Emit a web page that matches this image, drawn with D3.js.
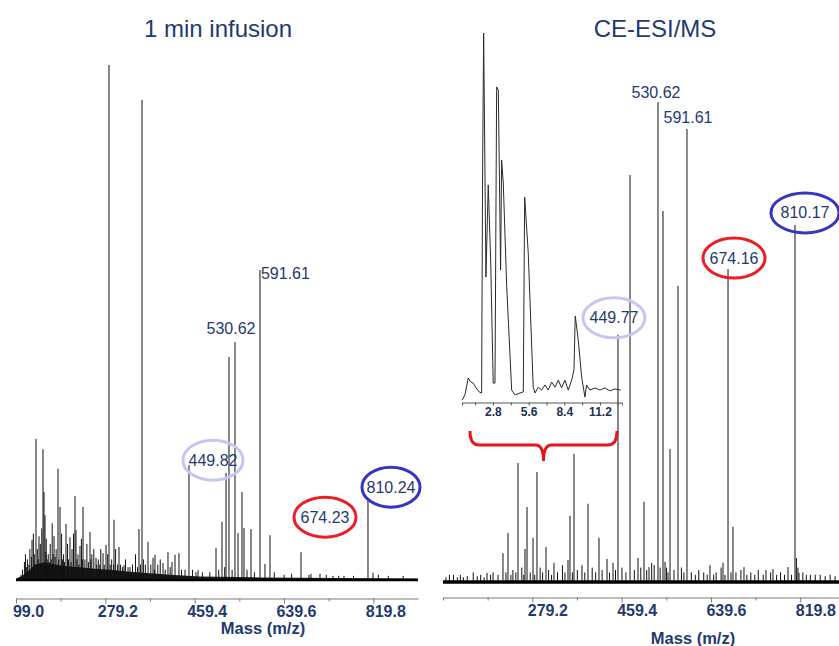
<!DOCTYPE html>
<meta charset="utf-8">
<style>
body { margin: 0; background: #fff; }
svg { display: block; font-family: "Liberation Sans", Arial, sans-serif; }
.title { font-size: 24px; fill: #1f3a73; text-anchor: middle; }
.axis path, .axis line { fill: none; stroke: #7a7a7a; stroke-width: 1px; }
.axis text { font-size: 16px; font-weight: bold; fill: #1f3a73; font-family: "Liberation Sans", Arial, sans-serif; }
.axis-title { font-size: 16.5px; font-weight: bold; fill: #1f3a73; text-anchor: middle; }
.peak { stroke: #111; stroke-width: 1px; }
.grass { stroke: #111; stroke-width: 1px; }
.band { fill: #1a1a1a; }
.baseline { fill: none; stroke: #000; stroke-width: 2.5px; }
.peak-label { font-size: 16px; fill: #1f3a73; }
.ring { fill: none; stroke-width: 3px; }
.inset-trace { fill: none; stroke: #2a2a2a; stroke-width: 1px; }
.inset-axis path, .inset-axis line { fill: none; stroke: #555; stroke-width: 1px; }
.inset-axis text { font-size: 12px; font-weight: bold; fill: #1f2f55; font-family: "Liberation Sans", Arial, sans-serif; }
.brace { fill: none; stroke: #e8141c; stroke-width: 3px; }
</style>
<body>
<script src="https://d3js.org/d3.v7.min.js"></script>
<script>
// two mass spectra side by side: direct infusion vs CE-ESI/MS (with electropherogram inset)

var massTicks = [99.0, 189.1, 279.2, 369.3, 459.4, 549.5, 639.6, 729.7, 819.8];
var leftTickLabels = [99.0, 279.2, 459.4, 639.6, 819.8];
var rightTickLabels = [279.2, 459.4, 639.6, 819.8];

// [m/z, relative intensity]
var leftPeaks = [
  [109.1, 1.0], [131.3, 7.8], [139.3, 27.4], [145.4, 8.5], [153.5, 25.4], [155.5, 17.1],
  [157.5, 12.6], [175.7, 8.5], [183.7, 21.6], [187.8, 14.2], [199.9, 10.9], [207.9, 8.3],
  [218.0, 16.3], [220.0, 9.7], [228.1, 6.6], [234.2, 14.2], [248.3, 9.3], [260.4, 4.3],
  [274.5, 5.2], [280.6, 6.8], [286.6, 100], [296.7, 11.7], [306.8, 6.4], [316.9, 2.9],
  [329.0, 2.5], [347.1, 9.9], [353.2, 93.2], [365.3, 7.4], [375.4, 4.3], [379.4, 4.9],
  [395.6, 3.3], [405.6, 5.4], [413.7, 3.5], [419.8, 4.9], [427.8, 5.2], [448.0, 22.3],
  [466.2, 1.9], [502.5, 6.2], [514.6, 11.3], [522.7, 20.8], [528.7, 43.3], [540.8, 46.2],
  [546.9, 9.1], [554.9, 17.1], [559.0, 10.1], [573.1, 9.9], [591.2, 60.2], [601.3, 3.1],
  [611.4, 8.7], [674.0, 5.4], [694.1, 1.2], [712.3, 1.2], [738.5, 0.8], [760.7, 0.8],
  [809.1, 15.7], [819.2, 1.4]
];

// unresolved low-level signal under the infusion spectrum
var leftGrass = [
  [112, 2], [116, 3.5], [118, 5], [120, 2.5], [122, 4], [125, 3], [127, 6], [130, 4.5],
  [134, 9], [136, 5], [142, 6], [144, 4], [148, 7], [151, 10], [159, 5.5], [160, 8],
  [162, 4], [164, 5], [166, 3.5], [168, 7], [170, 4], [172, 11], [174, 5], [178, 4.5],
  [180, 6], [185, 4], [191, 9], [193, 4], [195, 5], [197, 3.5], [203, 7], [205, 4],
  [210, 3.5], [212, 6], [215, 9], [222, 4], [224, 5], [226, 3], [231, 8], [233, 4],
  [238, 4], [242, 7], [245, 3.5], [250, 4], [252, 5], [256, 6], [262, 3], [265, 4],
  [268, 3], [270, 6], [277, 3], [284, 5], [289, 3], [292, 4], [296, 3], [300, 6], [304, 3],
  [310, 3], [314, 2.5], [320, 4], [325, 2.5], [334, 3], [340, 5], [344, 2.5], [350, 3],
  [356, 4], [360, 3], [371, 3], [378, 2], [385, 3], [390, 4], [400, 2], [410, 2.5],
  [433, 2], [440, 2], [455, 2], [462, 1.5], [475, 1.5], [490, 1.5], [508, 2], [520, 2.5],
  [535, 2], [565, 2], [580, 1.5], [620, 1.5], [640, 1], [655, 1.2], [690, 1], [725, 1],
  [750, 0.8], [780, 0.8], [830, 1], [850, 0.8], [880, 0.8]
];

var leftBand = [
  [99, 0.3], [111, 0.8], [127, 2.0], [137, 3.0], [157, 3.4], [178, 3.0], [198, 2.7],
  [228, 2.5], [258, 2.2], [289, 2.0], [329, 1.6], [369, 1.3], [410, 1.0], [470, 0.7],
  [591, 0.5], [910, 0.3]
];

var rightPeaks = [
  [187.8, 1.9], [220.0, 6.0], [230.1, 10.2], [250.3, 24.8], [264.4, 6.9], [268.5, 15.6],
  [280.6, 9.2], [288.6, 22.9], [306.8, 7.3], [322.9, 4.0], [351.2, 4.6], [355.2, 13.8],
  [363.3, 26.7], [379.4, 3.5], [391.5, 16.3], [413.7, 9.2], [429.9, 4.8], [442.0, 4.0],
  [452.0, 51.5], [476.3, 84.8], [492.4, 5.0], [504.5, 16.7], [514.6, 3.1], [532.7, 100],
  [542.8, 77.3], [546.9, 4.2], [557.0, 27.7], [573.1, 61.7], [591.2, 94.4], [637.6, 3.5],
  [663.9, 4.0], [674.0, 65.2], [684.0, 11.5], [706.2, 3.1], [750.6, 2.5], [764.7, 2.7],
  [795.0, 3.1], [809.1, 74.4], [817.2, 1.9]
];

var rightGrass = [
  [105, 1], [112, 1.5], [120, 1.5], [128, 1], [134, 1.5], [140, 1], [148, 1.2], [160, 2],
  [168, 1.2], [175, 1.5], [182, 1], [195, 1.5], [200, 2], [210, 1.5], [226, 2], [236, 1.5],
  [240, 2.5], [246, 2], [258, 3], [262, 1.5], [275, 2], [284, 1.5], [295, 3], [300, 2],
  [312, 2.5], [318, 1.5], [330, 2], [340, 3.5], [345, 2], [360, 2], [370, 2.5], [385, 2],
  [400, 3], [407, 2], [420, 2.5], [435, 2], [447, 2.5], [460, 3], [468, 2], [485, 2.5],
  [498, 3], [510, 2.5], [520, 4], [525, 3.5], [537, 3], [550, 3], [553, 2], [565, 2.5],
  [580, 3], [585, 2], [600, 2], [608, 1.5], [615, 2.5], [625, 2], [632, 1.5], [645, 1.5],
  [650, 2], [660, 3], [668, 1.5], [680, 2], [690, 2], [700, 2.5], [712, 1.5], [720, 2],
  [728, 1.5], [735, 2.5], [745, 1.5], [760, 2], [772, 1.5], [780, 2], [788, 1.5], [802, 1.5],
  [812, 5], [815, 3], [825, 2], [832, 1.5], [840, 1.5], [850, 1.5], [860, 1.5], [870, 1.2],
  [880, 1.5], [890, 1.2], [900, 1.2]
];

// electropherogram inset (time, signal)
var insetTime = [
  0.39, 0.60, 0.86, 1.05, 1.25, 1.47, 1.72, 1.91, 1.99, 2.07, 2.25, 2.43, 2.62, 2.82, 2.96,
  3.09, 3.22, 3.40, 3.48, 3.61, 3.88, 4.27, 4.53, 4.92, 5.18, 5.29, 5.57, 5.96, 6.10, 6.36,
  6.62, 6.88, 7.14, 7.41, 7.67, 7.93, 8.19, 8.45, 8.71, 8.98, 9.16, 9.26, 9.50, 9.76, 10.02,
  10.15, 10.41, 10.81, 11.20, 11.59, 11.98, 12.38, 12.82
];
var insetSignal = [
  0, 1.4, 6.0, 4.9, 4.6, 3.3, 2.2, 1.9, 63.5, 100, 33.5, 58.6, 38.1, 4.6, 4.6,
  85.3, 84.5, 35.4, 65.4, 59.1, 30.8, 2.7, 1.4, 1.9, 2.2, 55.3, 40.1, 3.5, 1.9, 3.5,
  2.7, 4.1, 2.7, 4.9, 3.5, 5.4, 3.3, 5.4, 2.7, 5.4, 8.2, 22.9, 16.3, 6.3, 0.8,
  4.1, 2.7, 3.3, 2.7, 3.3, 2.5, 3.0, 2.7
];
var insetTicks = [1.4, 2.8, 4.2, 5.6, 7.0, 8.4, 9.8, 11.2, 12.6];
var insetTickLabels = [2.8, 5.6, 8.4, 11.2];

var leftLabels = [["449.82", 448.0], ["530.62", 540.8], ["591.61", 591.2], ["674.23", 674.0], ["810.24", 809.1]];
var rightLabels = [["449.77", 452.0], ["530.62", 532.7], ["591.61", 591.2], ["674.16", 674.0], ["810.17", 809.1]];

var svg = d3.select("body").append("svg")
    .attr("width", 839)
    .attr("height", 646);

var ringColor = { light: "#c6c6f2", red: "#ee1c24", blue: "#3535c2" };

function drawPanel(opt) {
  var x = d3.scaleLinear().domain([99, 910]).range(opt.xRange);
  var y = d3.scaleLinear().domain([0, 100]).range([opt.base, opt.top]);
  var g = svg.append("g");

  if (opt.band) {
    var area = d3.area()
        .x(function(d) { return x(d[0]); })
        .y0(y(0))
        .y1(function(d) { return y(d[1]); });
    g.append("path").datum(opt.band).attr("class", "band").attr("d", area);
  }

  g.selectAll(".grass")
    .data(opt.grass)
    .enter().append("line")
      .attr("class", "grass")
      .attr("x1", function(d) { return x(d[0]); })
      .attr("x2", function(d) { return x(d[0]); })
      .attr("y1", y(0))
      .attr("y2", function(d) { return y(d[1]); });

  g.append("line")
      .attr("class", "baseline")
      .style("stroke-width", opt.baseWidth)
      .attr("x1", x(99)).attr("x2", x(910))
      .attr("y1", y(0)).attr("y2", y(0));

  g.selectAll(".peak")
    .data(opt.peaks)
    .enter().append("line")
      .attr("class", "peak")
      .attr("x1", function(d) { return x(d[0]); })
      .attr("x2", function(d) { return x(d[0]); })
      .attr("y1", y(0))
      .attr("y2", function(d) { return y(d[1]); });

  // mass axis; tick labels sit a bit right of their ticks as in the original figure
  var axis = g.append("g")
      .attr("class", "axis")
      .attr("transform", "translate(0," + opt.axisY + ")")
      .call(d3.axisBottom(x)
        .tickValues(massTicks)
        .tickSizeOuter(0)
        .tickFormat(function(d) { return opt.tickLabels.indexOf(d) >= 0 ? d.toFixed(1) : ""; }));
  axis.selectAll(".tick line").attr("y2", function(d) { return opt.tickLabels.indexOf(d) >= 0 ? 5 : 3; });
  axis.selectAll(".tick text").attr("y", 7).attr("dx", opt.labelShift);

  g.append("text")
      .attr("class", "axis-title")
      .attr("x", opt.axisTitle[0])
      .attr("y", opt.axisTitle[1])
      .text("Mass (m/z)");

  g.append("text")
      .attr("class", "title")
      .attr("x", opt.titleX)
      .attr("y", 37)
      .text(opt.title);

  opt.labels.forEach(function(l, i) {
    var note = opt.notes[i];
    var peak = opt.peaks.filter(function(p) { return p[0] === l[1]; })[0];
    var cx = x(peak[0]) + note.dx, cy = y(peak[1]) + note.dy;
    if (note.ring) {
      g.append("ellipse")
          .attr("class", "ring")
          .attr("cx", cx).attr("cy", cy)
          .attr("rx", note.rx || 30).attr("ry", 20)
          .style("stroke", ringColor[note.ring]);
    }
    g.append("text")
        .attr("class", "peak-label")
        .attr("x", cx).attr("y", cy)
        .attr("dy", "0.35em")
        .style("text-anchor", note.anchor || "middle")
        .text(l[0]);
  });

  return x;
}

drawPanel({
  xRange: [16, 418], base: 580, top: 65, axisY: 598.5, baseWidth: 2.5,
  peaks: leftPeaks, grass: leftGrass, band: leftBand,
  tickLabels: leftTickLabels, labelShift: 12,
  axisTitle: [263, 634], title: "1 min infusion", titleX: 218,
  labels: leftLabels,
  notes: [
    { dx: 24, dy: -5, ring: "light" },
    { dx: -4, dy: -14 },
    { dx: 1, dy: 3, anchor: "start" },
    { dx: 24, dy: -35, ring: "red", rx: 31 },
    { dx: 23, dy: -12, ring: "blue", rx: 29 }
  ]
});

var xR = drawPanel({
  xRange: [443, 845], base: 582, top: 102, axisY: 597.5, baseWidth: 3.5,
  peaks: rightPeaks, grass: rightGrass, band: null,
  tickLabels: rightTickLabels, labelShift: 15,
  axisTitle: [693, 644], title: "CE-ESI/MS", titleX: 655,
  labels: rightLabels,
  notes: [
    { dx: -4, dy: -17, ring: "light", rx: 31 },
    { dx: -2, dy: -10 },
    { dx: 1, dy: -11 },
    { dx: 6, dy: -11, ring: "red", rx: 31 },
    { dx: 10, dy: -12, ring: "blue", rx: 34 }
  ]
});

// inset electropherogram
var xI = d3.scaleLinear().domain([0.37, 12.93]).range([462, 622]);
var yI = d3.scaleLinear().domain([0, 100]).range([400, 33]);
var inset = svg.append("g");

inset.append("path")
    .datum(d3.zip(insetTime, insetSignal))
    .attr("class", "inset-trace")
    .attr("d", d3.line()
      .x(function(d) { return xI(d[0]); })
      .y(function(d) { return yI(d[1]); }));

var iaxis = inset.append("g")
    .attr("class", "inset-axis")
    .attr("transform", "translate(0,402.5)")
    .call(d3.axisBottom(xI)
      .tickValues(insetTicks)
      .tickSizeOuter(0)
      .tickSize(3)
      .tickFormat(function(d) { return insetTickLabels.indexOf(d) >= 0 ? d.toFixed(1) : ""; }));
iaxis.selectAll(".tick text").attr("y", 5);

// red brace under the inset, spanning the low-mass region
var bx0 = xR(153.5), bx1 = xR(450), bm = (bx0 + bx1) / 2;
var bp = d3.path();
bp.moveTo(bx0, 431);
bp.quadraticCurveTo(bx0, 445, bx0 + 9, 445);
bp.lineTo(bm - 8, 445);
bp.quadraticCurveTo(bm, 445, bm, 461);
bp.quadraticCurveTo(bm, 445, bm + 8, 445);
bp.lineTo(bx1 - 9, 445);
bp.quadraticCurveTo(bx1, 445, bx1, 431);
svg.append("path").attr("class", "brace").attr("d", bp.toString());
</script>
</body>
